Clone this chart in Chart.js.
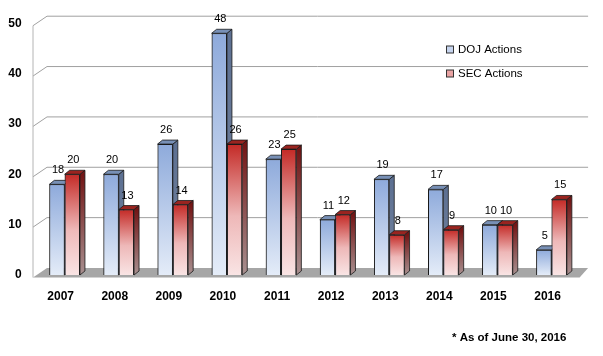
<!DOCTYPE html>
<html>
<head>
<meta charset="utf-8">
<script src="https://cdn.jsdelivr.net/npm/chart.js@4/dist/chart.umd.min.js"></script>
<style>
  html, body { margin: 0; padding: 0; background: #ffffff; }
  #wrap { width: 603px; height: 356px; }
</style>
</head>
<body>
<div id="wrap"><canvas id="c" width="603" height="356"></canvas></div>
<script>
const categories = ['2007', '2008', '2009', '2010', '2011', '2012', '2013', '2014', '2015', '2016'];
const dojActions = [18, 20, 26, 48, 23, 11, 19, 17, 10, 5];
const secActions = [20, 13, 14, 26, 25, 12, 8, 9, 10, 15];
const seriesNames = ['DOJ Actions', 'SEC Actions'];
const yTickValues = [0, 10, 20, 30, 40, 50];
const footnote = '* As of June 30, 2016';

const FONT = "'Liberation Sans', Arial, sans-serif";

function frontGradient(ctx, stops, fallback) {
  const chart = ctx.chart;
  if (!chart.chartArea || ctx.raw === undefined || !chart.scales.y) return fallback;
  const ys = chart.scales.y;
  const top = ys.getPixelForValue(ctx.raw);
  const bottom = ys.getPixelForValue(0);
  if (!isFinite(top) || !isFinite(bottom) || top === bottom) return fallback;
  const g = chart.ctx.createLinearGradient(0, top, 0, bottom);
  stops.forEach(s => g.addColorStop(s[0], s[1]));
  return g;
}

const DOJ_STOPS = [[0, '#8eaadb'], [1, '#e4ecf8']];
const SEC_STOPS = [[0, '#c42a26'], [0.55, '#eeb8b8'], [1, '#f9e4e4']];

const faceStyles = [
  { side: ['#5d7092', '#74849e'], top: '#7890b6' },
  { side: ['#731515', '#a89090'], top: '#9a2420' }
];

const DX = 5, DY = -4;

const threeDPlugin = {
  id: 'threeD',
  beforeDatasetsDraw(chart) {
    const ctx = chart.ctx;
    const ys = chart.scales.y;
    const area = chart.chartArea;
    const wallX0 = area.left - 4.6, wallX1 = wallX0 + 14, backRight = area.right + 9.5;
    ctx.save();
    const y0 = ys.getPixelForValue(0);
    ctx.fillStyle = '#a6a6a6';
    ctx.beginPath();
    ctx.moveTo(wallX0, y0 + 2.5);
    ctx.lineTo(wallX1, y0 - 7);
    ctx.lineTo(backRight, y0 - 7);
    ctx.lineTo(area.right + 1, y0 + 2.5);
    ctx.closePath();
    ctx.fill();
    ctx.strokeStyle = '#a0a0a0';
    ctx.lineWidth = 1;
    yTickValues.forEach(v => {
      if (v === 0) return;
      const sy = ys.getPixelForValue(v);
      ctx.beginPath();
      ctx.moveTo(wallX0, sy + 2.5);
      ctx.lineTo(wallX1, sy - 7);
      ctx.lineTo(backRight, sy - 7);
      ctx.stroke();
    });
    ctx.strokeStyle = '#b4b4b4';
    ctx.beginPath();
    ctx.moveTo(wallX0, ys.getPixelForValue(50) + 2.5);
    ctx.lineTo(wallX0, y0 + 2.5);
    ctx.stroke();
    ctx.restore();
  },
  afterDatasetsDraw(chart) {
    const ctx = chart.ctx;
    const area = chart.chartArea;
    chart.data.datasets.forEach((ds, di) => {
      const meta = chart.getDatasetMeta(di);
      const st = faceStyles[di];
      meta.data.forEach(el => {
        el.draw(ctx, area);
        const p = el.getProps(['x', 'y', 'base', 'width'], true);
        const l = p.x - p.width / 2, r = p.x + p.width / 2;
        ctx.save();
        ctx.strokeStyle = '#1a1a1a';
        ctx.lineWidth = 0.8;
        const g = ctx.createLinearGradient(0, p.y, 0, p.base);
        g.addColorStop(0, st.side[0]);
        g.addColorStop(1, st.side[1]);
        ctx.fillStyle = g;
        ctx.beginPath();
        ctx.moveTo(r, p.y);
        ctx.lineTo(r + DX, p.y + DY);
        ctx.lineTo(r + DX, p.base + DY);
        ctx.lineTo(r, p.base);
        ctx.closePath();
        ctx.fill();
        ctx.stroke();
        ctx.fillStyle = st.top;
        ctx.beginPath();
        ctx.moveTo(l, p.y);
        ctx.lineTo(l + DX, p.y + DY);
        ctx.lineTo(r + DX, p.y + DY);
        ctx.lineTo(r, p.y);
        ctx.closePath();
        ctx.fill();
        ctx.stroke();
        ctx.restore();
      });
    });
  },
  afterDraw(chart) {
    const ctx = chart.ctx;
    ctx.save();
    ctx.fillStyle = '#000';
    ctx.font = '11px ' + FONT;
    ctx.textAlign = 'center';
    ctx.textBaseline = 'bottom';
    chart.data.datasets.forEach((ds, di) => {
      const meta = chart.getDatasetMeta(di);
      meta.data.forEach((el, i) => {
        const p = el.getProps(['x', 'y'], true);
        ctx.fillText(String(ds.data[i]), p.x + 1, p.y - 8.5);
      });
    });
    const legendFill = ['#c6d4ee', '#e9a3a3'];
    ctx.font = '11.5px ' + FONT;
    ctx.textAlign = 'left';
    ctx.textBaseline = 'middle';
    chart.data.datasets.forEach((ds, di) => {
      const cy = 49.5 + di * 24;
      ctx.fillStyle = legendFill[di];
      ctx.fillRect(446.5, cy - 3.5, 7, 7);
      ctx.strokeStyle = '#333';
      ctx.lineWidth = 1;
      ctx.strokeRect(446.5, cy - 3.5, 7, 7);
      ctx.fillStyle = '#000';
      ctx.fillText(ds.label, 458, cy);
    });
    ctx.font = 'bold 11.5px ' + FONT;
    ctx.fillText(footnote, 452, 338);
    ctx.restore();
  }
};

new Chart(document.getElementById('c'), {
  type: 'bar',
  data: {
    labels: categories,
    datasets: [
      {
        label: seriesNames[0],
        data: dojActions,
        backgroundColor: ctx => frontGradient(ctx, DOJ_STOPS, '#b4c7e7'),
        borderColor: '#1a1a1a',
        borderWidth: 1,
        categoryPercentage: 0.566,
        barPercentage: 1.0
      },
      {
        label: seriesNames[1],
        data: secActions,
        backgroundColor: ctx => frontGradient(ctx, SEC_STOPS, '#e08080'),
        borderColor: '#1a1a1a',
        borderWidth: 1,
        categoryPercentage: 0.566,
        barPercentage: 1.0
      }
    ]
  },
  options: {
    responsive: false,
    animation: false,
    devicePixelRatio: 1,
    layout: { padding: { left: 0, right: 24.4, top: 17.5, bottom: 0 } },
    plugins: {
      legend: { display: false },
      tooltip: { enabled: false },
      title: { display: false }
    },
    scales: {
      x: {
        grid: { display: false, drawTicks: false },
        border: { display: false },
        ticks: {
          color: '#000',
          font: { family: FONT, size: 12, weight: 'bold' },
          padding: 14,
          labelOffset: -4,
          maxRotation: 0
        },
        afterFit: s => { s.height = 81; }
      },
      y: {
        min: 0,
        max: 50,
        grid: { display: false, drawTicks: false },
        border: { display: false },
        ticks: {
          stepSize: 10,
          color: '#000',
          font: { family: FONT, size: 12, weight: 'bold' },
          padding: 16
        },
        afterFit: s => { s.width = 37.6; }
      }
    }
  },
  plugins: [threeDPlugin]
});
</script>
</body>
</html>
